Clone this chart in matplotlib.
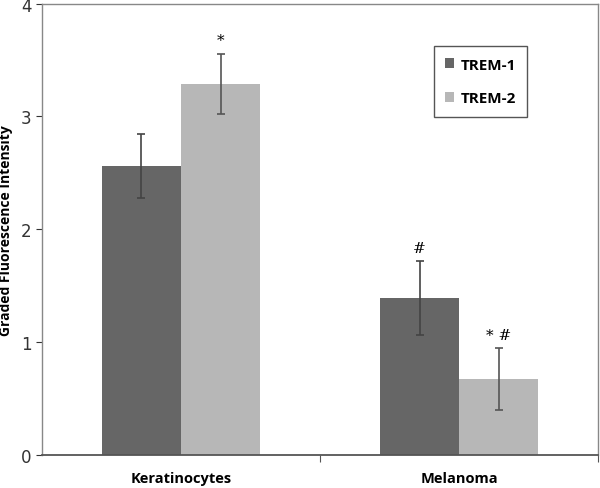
import matplotlib.pyplot as plt
import numpy as np

categories = ["Keratinocytes", "Melanoma"]
series = ["TREM-1", "TREM-2"]
trem1_mean = [2.56, 1.39]
trem1_err = [0.285, 0.325]
trem2_mean = [3.29, 0.67]
trem2_err = [0.265, 0.275]
trem1_marks = ["", "#"]
trem2_marks = ["*", "* #"]

DARK = "#666666"
LIGHT = "#b7b7b7"
BAR_W = 0.285

fig = plt.figure(figsize=(6, 4.89), dpi=100)
ax = fig.add_axes([0.07, 0.0675, 0.927, 0.923])

x = np.arange(len(categories))
ax.bar(x - BAR_W / 2, trem1_mean, BAR_W, color=DARK, label=series[0], zorder=2)
ax.bar(x + BAR_W / 2, trem2_mean, BAR_W, color=LIGHT, label=series[1], zorder=2)
ax.errorbar(x - BAR_W / 2, trem1_mean, yerr=trem1_err, fmt="none",
            ecolor="#444444", elinewidth=1.2, capsize=3, capthick=1.2, zorder=3)
ax.errorbar(x + BAR_W / 2, trem2_mean, yerr=trem2_err, fmt="none",
            ecolor="#555555", elinewidth=1.2, capsize=3, capthick=1.2, zorder=3)

# significance marks above the error bars
for xi, m, e, s in zip(x - BAR_W / 2, trem1_mean, trem1_err, trem1_marks):
    if s:
        ax.text(xi, m + e + 0.06, s, ha="center", va="bottom", fontsize=11,
                family="DejaVu Serif")
for xi, m, e, s in zip(x + BAR_W / 2, trem2_mean, trem2_err, trem2_marks):
    if s:
        ax.text(xi, m + e + 0.06, s, ha="center", va="bottom", fontsize=11,
                family="DejaVu Serif")

ax.set_xlim(-0.5, 1.5)
ax.set_ylim(0, 4)
ax.set_yticks([0, 1, 2, 3, 4])
ax.tick_params(axis="y", labelsize=12, direction="out", length=4, colors="#333333")
ax.set_xticks([0.5, 1.5])
ax.set_xticklabels([])
ax.tick_params(axis="x", direction="out", length=5, colors="#555555")
for xi, c in zip(x, categories):
    ax.text(xi, -0.14, c, ha="center", va="top", fontsize=10.5,
            fontweight="bold", family="Open Sans")

ax.set_ylabel("Graded Fluorescence Intensity", fontsize=10,
              fontweight="bold", family="Open Sans", labelpad=6)

for side in ["top", "right", "left"]:
    ax.spines[side].set_color("#888888")
    ax.spines[side].set_linewidth(1.0)
ax.spines["bottom"].set_color("#555555")
ax.spines["bottom"].set_linewidth(1.3)

leg = ax.legend(loc="upper left", bbox_to_anchor=(0.7045, 0.906),
                prop={"family": "Open Sans", "weight": "bold", "size": 11},
                handlelength=0.6, handleheight=0.6, handletextpad=0.4,
                labelspacing=1.3, borderpad=0.75, borderaxespad=0,
                fancybox=False, edgecolor="#555555", framealpha=1)
leg.get_frame().set_linewidth(1.0)

fig.savefig("out.png", dpi=100)
